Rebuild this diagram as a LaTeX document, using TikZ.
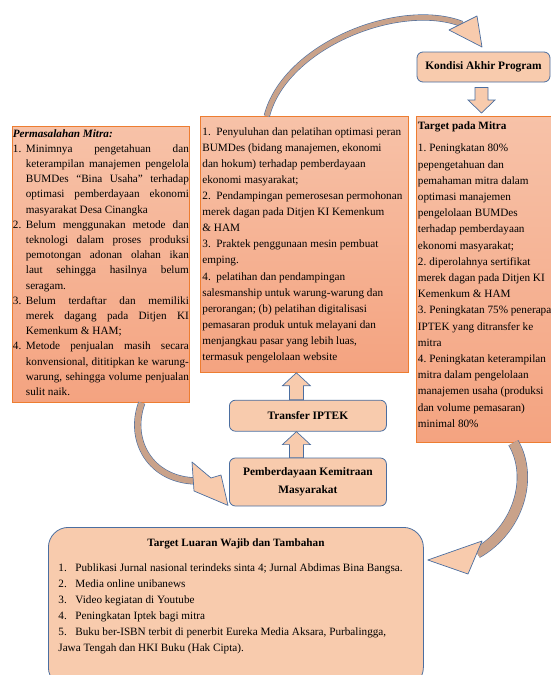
\documentclass[tikz,border=0pt]{standalone}
\usepackage{fontspec}
\setmainfont{Liberation Serif}
\usetikzlibrary{positioning, calc}
\definecolor{peach}{RGB}{248,203,173}
\definecolor{salmonlt}{RGB}{247,194,168}
\definecolor{salmondk}{RGB}{244,163,128}
\definecolor{rimorange}{RGB}{237,125,49}
\definecolor{rimblue}{RGB}{75,110,160}
\definecolor{bandtan}{RGB}{201,162,138}
\newlength{\numwd}
\newcommand{\numitem}[2]{\par\hangindent=\numwd\hangafter=1\noindent\hbox to\numwd{#1\hfil}#2\par}
\newcommand{\boxtext}[2]{\fontsize{#1pt}{#2pt}\selectfont\setlength{\baselineskip}{#2pt}}
\newcommand{\blockv}[3]{\draw[blk] ($(#2)+(-7,0)$) -- ($(#1)+(-7,#3)$) -- ($(#1)+(-14,#3)$) -- (#1) -- ($(#1)+(14,#3)$) -- ($(#1)+(7,#3)$) -- ($(#2)+(7,0)$) -- cycle;}
\tikzset{panel/.style={draw=rimorange, line width=0.8pt, top color=salmonlt, bottom color=salmondk, anchor=north west, inner ysep=0pt}}
\tikzset{rbox/.style={draw=rimblue, line width=0.8pt, fill=peach, rounded corners=6pt, align=center, font=\bfseries\fontsize{11.4}{14.5}\selectfont}}
\tikzset{blk/.style={draw=rimblue, line width=0.7pt, fill=peach}}
\tikzset{band/.style={draw=rimblue, line width=0.6pt, double=bandtan, double distance=#1}, band/.default=5pt}
\tikzset{head/.style={draw=rimblue, line width=0.7pt, fill=peach, line join=round}}

\begin{document}
\begin{tikzpicture}[x=1pt, y=-1pt, node distance=26pt]
\useasboundingbox (0,0) rectangle (551,675);

\node (masalah) [panel, inner xsep=0.5pt] at (12,126) {\parbox[t][276pt][t]{176pt}{\boxtext{11.2}{15.2}\setlength{\numwd}{13pt}\vspace*{3pt}%
\textbf{\textit{Permasalahan Mitra:}}\par
\numitem{1.}{Minimnya pengetahuan dan\linebreak keterampilan manajemen pengelola\linebreak BUMDes “Bina Usaha” terhadap\linebreak optimasi pemberdayaan ekonomi\linebreak masyarakat Desa Cinangka}
\numitem{2.}{Belum menggunakan metode dan\linebreak teknologi dalam proses produksi\linebreak pemotongan adonan olahan ikan\linebreak laut sehingga hasilnya belum\linebreak seragam.}
\numitem{3.}{Belum terdaftar dan memiliki\linebreak merek dagang pada Ditjen KI\linebreak Kemenkum \& HAM;}
\numitem{4.}{Metode penjualan masih secara\linebreak konvensional, dititipkan ke warung-\linebreak warung, sehingga volume penjualan\linebreak sulit naik.}}};

\node (solusi) [panel, inner xsep=2pt] at (200,116) {\parbox[t][256pt][t]{204pt}{\boxtext{11.2}{16.1}\raggedright\setlength{\numwd}{14pt}\vspace*{11pt}%
\numitem{1.}{Penyuluhan dan pelatihan optimasi peran\\ BUMDes (bidang manajemen, ekonomi\\ dan hokum) terhadap pemberdayaan\\ ekonomi masyarakat;}
\numitem{2.}{Pendampingan pemerosesan permohonan\\ merek dagan pada Ditjen KI Kemenkum\\ \& HAM}
\numitem{3.}{Praktek penggunaan mesin pembuat\\ emping.}
\numitem{4.}{pelatihan dan pendampingan\\ salesmanship untuk warung-warung dan\\ perorangan; (b) pelatihan digitalisasi\\ pemasaran produk untuk melayani dan\\ menjangkau pasar yang lebih luas,\\ termasuk pengelolaan website}}};

\node (target) [panel, inner xsep=1.5pt] at (416,116) {\parbox[t][326pt][t]{146pt}{\boxtext{11.2}{16.2}\raggedright\setlength{\numwd}{11.5pt}\vspace*{5pt}%
\textbf{Target pada Mitra}\par\vspace{6.5pt}
\numitem{1.}{Peningkatan 80\%\\ pepengetahuan dan\\ pemahaman mitra dalam\\ optimasi manajemen\\ pengelolaan BUMDes\\ terhadap pemberdayaan\\ ekonomi masyarakat;}
\numitem{2.}{diperolahnya sertifikat\\ merek dagan pada Ditjen KI\\ Kemenkum \& HAM}
\numitem{3.}{Peningkatan 75\% penerapan\\ IPTEK yang ditransfer ke\\ mitra}
\numitem{4.}{Peningkatan keterampilan\\ mitra dalam pengelolaan\\ manajemen usaha (produksi\\ dan volume pemasaran)\\ minimal 80\%}}};

\node (kondisi) [rbox, minimum width=133pt, minimum height=30pt] at (483.5,67) {Kondisi Akhir Program};
\node (transfer) [rbox, minimum width=157pt, minimum height=31pt, below=27pt of solusi, xshift=3.5pt] {Transfer IPTEK};
\node (pember) [rbox, minimum width=157pt, minimum height=48pt, font=\bfseries\fontsize{11.4}{18}\selectfont, below=26pt of transfer] {Pemberdayaan Kemitraan\\Masyarakat};

\node (luaran) [rbox, rounded corners=20pt, anchor=north west, inner xsep=10pt, inner ysep=0pt] at (48,527) {\parbox[t][160pt][t]{355pt}{\mdseries\boxtext{11.2}{16}\raggedright\setlength{\numwd}{17pt}\vspace*{11pt}%
{\centering\bfseries Target Luaran Wajib dan Tambahan\par}\vspace{9pt}
\numitem{1.}{Publikasi Jurnal nasional terindeks sinta 4; Jurnal Abdimas Bina Bangsa.}
\numitem{2.}{Media online unibanews}
\numitem{3.}{Video kegiatan di Youtube}
\numitem{4.}{Peningkatan Iptek bagi mitra}
\numitem{5.}{Buku ber-ISBN terbit di penerbit Eureka Media Aksara, Purbalingga,\\ Jawa Tengah dan HKI Buku (Hak Cipta).}}};

\coordinate (u1tip) at ($(solusi.south)+(-8,0)$);
\coordinate (u1tail) at (u1tip |- transfer.north);
\blockv{u1tip}{u1tail}{13}
\coordinate (u2tip) at (u1tip |- transfer.south);
\coordinate (u2tail) at (u1tip |- pember.north);
\blockv{u2tip}{u2tail}{13}
\coordinate (d1tail) at ($(kondisi.south)+(-2,5)$);
\coordinate (d1tip) at ($(d1tail |- target.north)+(0,-3)$);
\draw[blk] ($(d1tail)+(-6.5,0)$) -- ($(d1tip)+(-6.5,-13)$) -- ($(d1tip)+(-13.5,-13)$) -- (d1tip) -- ($(d1tip)+(13.5,-13)$) -- ($(d1tip)+(6.5,-13)$) -- ($(d1tail)+(6.5,0)$) -- cycle;

\coordinate (s1) at ($(solusi.north west)!.32!(solusi.north east)$);
\coordinate (e1) at (462,24);
\coordinate (t1) at (482,47);
\draw[band=5pt] (s1) .. controls (285,45) and (400,0) .. (e1);
\draw[head] (449,30) -- (t1) -- (477,16) -- cycle;

\coordinate (s2) at ($(masalah.south west)!.73!(masalah.south east)$);
\coordinate (e2) at (196,481);
\coordinate (t2) at ($(pember.south west)+(-1,-1)$);
\draw[band=6pt] (s2) .. controls (128,440) and (150,480) .. (e2);
\draw[head] (192,462) -- (211,478) -- (221,475) -- (t2) -- (194,491) -- cycle;

\coordinate (s3) at ($(target.south west)!.65!(target.south east)$);
\coordinate (e3) at (477,553);
\coordinate (t3) at ($(luaran.north east)+(4,33)$);
\draw[band=10pt] (s3) .. controls (534,478) and (518,530) .. (e3);
\draw[head] (482,541) -- (t3) -- (468,574) -- cycle;
\end{tikzpicture}
\end{document}
